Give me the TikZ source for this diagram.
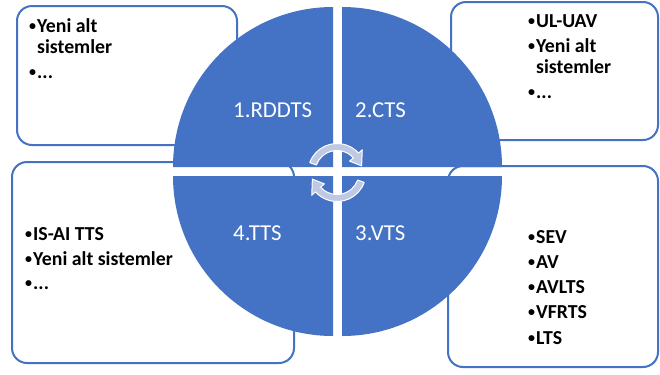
\documentclass[tikz,border=0pt]{standalone}
\usepackage{fontspec}
\setmainfont{Carlito}
\usetikzlibrary{calc}
\definecolor{oblue}{HTML}{4472C4}
\definecolor{arrfill}{RGB}{190,202,228}
\newcommand{\mybul}{\makebox[8bp][l]{\raisebox{1.5bp}{\fontsize{14bp}{14bp}\selectfont •}}}
\begin{document}
\begin{tikzpicture}[x=1bp,y=-1bp,
  box/.style={draw=oblue,line width=2bp,rounded corners=15bp},
  quarter/.style={fill=oblue},
  lab/.style={text=white,font=\fontsize{22.8bp}{26bp}\selectfont,inner sep=0pt,anchor=base west},
  itm/.style={font=\fontsize{19.8bp}{23bp}\selectfont\bfseries,inner sep=0pt,anchor=base west},
  cyc/.style={fill=arrfill,draw=white,line width=1bp,line join=round}]
\useasboundingbox (0,0) rectangle (660,374);
\fill[white] (0,0) rectangle (660,374);

% boxes
\draw[box] (17,6) rectangle (237,145);
\draw[box] (451,2) rectangle (658,140);
\draw[box] (12,162) rectangle (294,363);
\draw[box] (448,166) rectangle (658,367);

% quarters
\fill[quarter] (333,167) -- ++(-160,0) arc[start angle=180,end angle=270,radius=160] -- cycle;
\fill[quarter] (342,167) -- ++(0,-160) arc[start angle=270,end angle=360,radius=160] -- cycle;
\fill[quarter] (342,176) -- ++(160,0) arc[start angle=0,end angle=90,radius=160] -- cycle;
\fill[quarter] (333,176) -- ++(0,160) arc[start angle=90,end angle=180,radius=160] -- cycle;

% quarter labels
\node[lab] (q1) at (233,117) {1.RDDTS};
\node[lab] (q2) at (355,117) {2.CTS};
\node[lab] (q3) at (355,240) {3.VTS};
\node[lab] (q4) at (233,240) {4.TTS};

% circular arrows
\coordinate (c) at (337,172.5);
\path[cyc] ($(c)+(200:29)$) arc[start angle=200,end angle=318,radius=29]
  -- ($(c)+(318:34)$) -- ($(c)+(345:25.5)$) -- ($(c)+(318:17)$)
  -- ($(c)+(318:22)$) arc[start angle=318,end angle=200,radius=22] -- cycle;
\path[cyc] ($(c)+(20:29)$) arc[start angle=20,end angle=138,radius=29]
  -- ($(c)+(138:34)$) -- ($(c)+(165:25.5)$) -- ($(c)+(138:17)$)
  -- ($(c)+(138:22)$) arc[start angle=138,end angle=20,radius=22] -- cycle;

% top-left box text
\node[itm] (a1) at (29,32) {\mybul Yeni alt};
\node[itm] (a2) at (37,53) {sistemler};
\node[itm] (a3) at (29,78) {\mybul ...};

% top-right box text
\node[itm] (b1) at (528,27) {\mybul UL-UAV};
\node[itm] (b2) at (528,52) {\mybul Yeni alt};
\node[itm] (b3) at (536,73) {sistemler};
\node[itm] (b4) at (528,98) {\mybul ...};

% bottom-left box text
\node[itm] (d1) at (25,240) {\mybul IS-AI TTS};
\node[itm] (d2) at (25,265) {\mybul Yeni alt sistemler};
\node[itm] (d3) at (25,289) {\mybul ...};

% bottom-right box text
\node[itm] (e1) at (528,243) {\mybul SEV};
\node[itm] (e2) at (528,268) {\mybul AV};
\node[itm] (e3) at (528,293) {\mybul AVLTS};
\node[itm] (e4) at (528,318) {\mybul VFRTS};
\node[itm] (e5) at (528,344) {\mybul LTS};
\end{tikzpicture}
\end{document}
